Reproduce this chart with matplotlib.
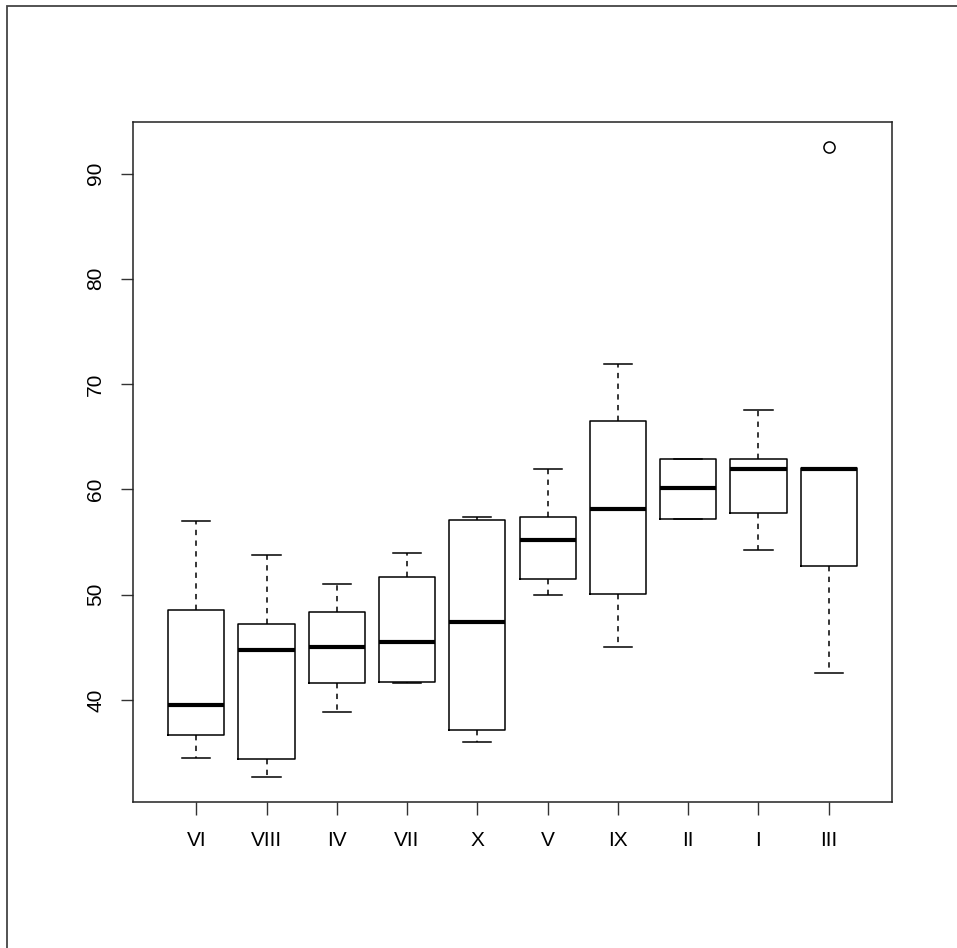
"""Box plot of ten groups (R base-graphics look), redrawn with matplotlib."""

import matplotlib

matplotlib.use("Agg")
import matplotlib.pyplot as plt
from matplotlib.patches import Rectangle

plt.rcParams["font.family"] = ["Liberation Sans", "DejaVu Sans"]

# groups, left to right
labels = ["VI", "VIII", "IV", "VII", "X", "V", "IX", "II", "I", "III"]

# five-number summaries
whisker_lo = [34.5, 32.7, 38.9, 41.6, 36.0, 50.0, 45.0, 57.2, 54.2, 42.6]
q1 = [36.7, 34.4, 41.6, 41.7, 37.1, 51.5, 50.1, 57.2, 57.8, 52.7]
median = [39.5, 44.7, 45.0, 45.5, 47.4, 55.2, 58.1, 60.1, 61.9, 61.9]
q3 = [48.5, 47.2, 48.4, 51.7, 57.1, 57.4, 66.5, 62.9, 62.9, 62.0]
whisker_hi = [57.0, 53.8, 51.0, 54.0, 57.4, 61.9, 71.9, 62.9, 67.5, 62.0]
outliers = [[], [], [], [], [], [], [], [], [], [92.5]]

y_ticks = [40, 50, 60, 70, 80, 90]


def main() -> None:
    fig = plt.figure(figsize=(9.57, 9.48), dpi=100)
    ax = fig.add_axes([133 / 957, 1 - 802 / 948, (892 - 133) / 957, (802 - 122) / 948])

    stats = [
        dict(whislo=lo, q1=a, med=m, q3=b, whishi=hi, fliers=fl)
        for lo, a, m, b, hi, fl in zip(whisker_lo, q1, median, q3, whisker_hi, outliers)
    ]
    pos = list(range(1, len(labels) + 1))
    ax.bxp(
        stats,
        positions=pos,
        widths=0.8,
        capwidths=0.4,
        boxprops=dict(color="black", linewidth=1.1),
        medianprops=dict(color="black", linewidth=3.0, solid_capstyle="butt"),
        whiskerprops=dict(color="black", linewidth=1.1, linestyle=(0, (3.5, 3.5))),
        capprops=dict(color="black", linewidth=1.1),
        flierprops=dict(marker="o", markersize=8, markerfacecolor="none",
                        markeredgecolor="black", markeredgewidth=1.1),
    )

    # R-style 4% axis padding
    lo_all = min(whisker_lo + [v for fl in outliers for v in fl])
    hi_all = max(whisker_hi + [v for fl in outliers for v in fl])
    span = hi_all - lo_all
    ax.set_ylim(lo_all - 0.04 * span, hi_all + 0.04 * span)
    ax.set_xlim(0.1, len(labels) + 0.9)

    ax.set_xticks(pos)
    ax.set_xticklabels(labels)
    ax.set_yticks(y_ticks)
    ax.set_yticklabels([str(v) for v in y_ticks], rotation=90, va="center")
    ax.tick_params(axis="both", direction="out", length=9, width=1, labelsize=15,
                   color="#333333")
    ax.tick_params(axis="x", pad=12)
    ax.tick_params(axis="y", pad=11)
    for sp in ax.spines.values():
        sp.set_linewidth(1.1)
        sp.set_color("#222222")

    # outer device frame (left and top edges visible only)
    fig.patches.append(
        Rectangle((7 / 957, -0.05), 1.1, 1 - 6 / 948 + 0.05, transform=fig.transFigure,
                  fill=False, edgecolor="#444444", linewidth=1.3, clip_on=False)
    )

    fig.savefig("out.png", dpi=100)
    plt.close(fig)


if __name__ == "__main__":
    main()
